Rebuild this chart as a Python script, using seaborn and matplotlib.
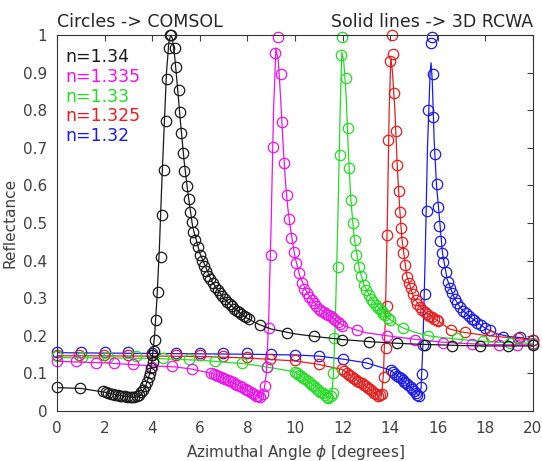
import numpy as np
import matplotlib
matplotlib.use("Agg")
import matplotlib.pyplot as plt
import seaborn as sns

# COMSOL (circles) and 3D RCWA (lines) reflectance vs azimuthal angle

labels = ["n=1.34", "n=1.335", "n=1.33", "n=1.325", "n=1.32"]
colors = ["#1a1a1a", "#ee11ee", "#22dd22", "#e81c1c", "#1c1ce8"]

# n = 1.34
comsol_x_134 = [0, 0.97, 1.95, 2.05, 2.15, 2.25, 2.35, 2.45, 2.55, 2.65, 2.75, 2.85, 2.95,
                3.05, 3.15, 3.25, 3.35, 3.45, 3.55, 3.63, 3.70, 3.77, 3.85, 3.92, 3.97,
                4.0, 4.03, 4.06, 4.10, 4.17, 4.24, 4.37, 4.41, 4.48, 4.58, 4.62, 4.69, 4.76,
                4.80, 4.94, 5.0, 5.11, 5.18, 5.22, 5.29, 5.35, 5.46, 5.53, 5.57, 5.67, 5.71,
                5.81, 5.91, 5.99, 6.08, 6.17, 6.26, 6.35, 6.45, 6.55, 6.65, 6.75, 6.85, 6.95,
                7.05, 7.15, 7.25, 7.35, 7.45, 7.55, 7.65, 7.75, 7.85, 7.95, 8.06, 8.52, 9.66,
                10.82, 11.99, 13.12, 14.3, 15.47, 16.62, 17.78, 18.95, 20.0]
comsol_y_134 = [0.064, 0.062, 0.052, 0.050, 0.048, 0.046, 0.044, 0.043, 0.042, 0.041, 0.040,
                0.039, 0.038, 0.038, 0.037, 0.038, 0.040, 0.043, 0.050, 0.056, 0.066, 0.078,
                0.090, 0.100, 0.115, 0.150, 0.131, 0.160, 0.189, 0.243, 0.317, 0.41, 0.52,
                0.641, 0.772, 0.882, 0.965, 1.0, 1.0, 0.965, 0.914, 0.855, 0.796, 0.738,
                0.685, 0.639, 0.599, 0.563, 0.53, 0.502, 0.477, 0.455, 0.435, 0.415, 0.40,
                0.385, 0.372, 0.36, 0.35, 0.34, 0.33, 0.321, 0.313, 0.305, 0.298, 0.291,
                0.284, 0.278, 0.272, 0.267, 0.262, 0.258, 0.253, 0.249, 0.244, 0.230, 0.208,
                0.200, 0.190, 0.184, 0.180, 0.176, 0.174, 0.173, 0.173, 0.175]
rcwa_x_134 = [0, 1, 2, 2.5, 3, 3.3, 3.5, 3.7, 3.9, 4.0, 4.1, 4.2, 4.3, 4.4, 4.5, 4.6, 4.7,
              4.78, 4.85, 4.95, 5.05, 5.2, 5.35, 5.5, 5.7, 6.0, 6.5, 7.0, 7.5, 8.0, 8.5, 9.0,
              10, 11, 12, 13, 14, 15, 16, 17, 18, 19, 20]
rcwa_y_134 = [0.062, 0.060, 0.050, 0.043, 0.038, 0.036, 0.042, 0.062, 0.10, 0.14, 0.20, 0.30,
              0.43, 0.60, 0.75, 0.90, 0.98, 1.0, 0.99, 0.94, 0.87, 0.76, 0.66, 0.58, 0.49,
              0.42, 0.345, 0.30, 0.27, 0.246, 0.23, 0.218, 0.205, 0.197, 0.19, 0.185, 0.181,
              0.178, 0.176, 0.174, 0.173, 0.173, 0.173]

# n = 1.335
comsol_x_1335 = [0, 0.8, 1.63, 2.41, 3.21, 4.01, 4.83, 5.67, 6.48, 6.58, 6.68, 6.78, 6.88,
                 6.98, 7.08, 7.18, 7.28, 7.38, 7.48, 7.58, 7.68, 7.78, 7.88, 7.98, 8.08, 8.18,
                 8.27, 8.36, 8.45, 8.55, 8.65, 8.76, 8.83, 8.90, 9.0, 9.08, 9.15, 9.27, 9.40,
                 9.47, 9.54, 9.65, 9.77, 9.85, 9.95, 10.05, 10.16, 10.3, 10.4, 10.51, 10.6,
                 10.7, 10.79, 10.9, 11.0, 11.1, 11.2, 11.3, 11.4, 11.5, 11.6, 11.7, 11.8,
                 11.9, 11.96, 12.59, 13.85, 15.05, 16.24, 17.43, 18.56, 19.33, 20.0]
comsol_y_1335 = [0.134, 0.134, 0.128, 0.128, 0.124, 0.118, 0.119, 0.111, 0.100, 0.098, 0.096,
                 0.093, 0.090, 0.088, 0.085, 0.082, 0.079, 0.076, 0.073, 0.070, 0.066, 0.063,
                 0.059, 0.056, 0.052, 0.048, 0.044, 0.041, 0.039, 0.038, 0.045, 0.067, 0.118,
                 0.222, 0.415, 0.703, 0.951, 0.995, 0.896, 0.768, 0.659, 0.574, 0.51, 0.459,
                 0.424, 0.393, 0.366, 0.34, 0.325, 0.313, 0.303, 0.294, 0.286, 0.278, 0.271,
                 0.267, 0.264, 0.259, 0.255, 0.252, 0.248, 0.241, 0.236, 0.231, 0.227, 0.215,
                 0.200, 0.190, 0.182, 0.178, 0.176, 0.176, 0.177]
rcwa_x_1335 = [0, 2, 4, 5, 5.7, 6.5, 7, 7.5, 8, 8.3, 8.5, 8.6, 8.7, 8.8, 8.9, 9.0, 9.1, 9.2,
               9.3, 9.4, 9.5, 9.6, 9.7, 9.8, 10.0, 10.2, 10.5, 11, 11.5, 12, 12.6, 13, 14, 15,
               16, 17, 18, 19, 20]
rcwa_y_1335 = [0.132, 0.128, 0.120, 0.117, 0.111, 0.100, 0.087, 0.072, 0.055, 0.043, 0.037,
               0.040, 0.055, 0.10, 0.25, 0.50, 0.80, 0.965, 0.93, 0.83, 0.71, 0.61, 0.54, 0.49,
               0.41, 0.36, 0.315, 0.273, 0.252, 0.228, 0.215, 0.208, 0.199, 0.191, 0.184,
               0.180, 0.177, 0.176, 0.176]

# n = 1.33
comsol_x_133 = [0, 1.04, 2.16, 3.33, 4.45, 5.53, 6.65, 7.78, 8.83, 9.99, 10.08, 10.17, 10.26,
                10.35, 10.44, 10.53, 10.62, 10.71, 10.8, 10.89, 10.98, 11.07, 11.16, 11.25,
                11.33, 11.4, 11.5, 11.58, 11.61, 11.65, 11.79, 11.88, 11.93, 11.99, 12.13,
                12.21, 12.26, 12.35, 12.43, 12.51, 12.58, 12.69, 12.79, 12.9, 13.0, 13.11,
                13.2, 13.3, 13.39, 13.48, 13.56, 13.64, 13.72, 13.8, 13.9, 13.99, 14.55,
                15.61, 16.8, 17.92, 19.05, 20.0]
comsol_y_133 = [0.145, 0.143, 0.143, 0.145, 0.142, 0.137, 0.134, 0.128, 0.117, 0.105, 0.101,
                0.097, 0.093, 0.089, 0.085, 0.080, 0.075, 0.070, 0.066, 0.061, 0.056, 0.051,
                0.047, 0.042, 0.038, 0.035, 0.040, 0.048, 0.100, 0.193, 0.384, 0.68, 0.947,
                0.995, 0.885, 0.753, 0.645, 0.56, 0.50, 0.455, 0.415, 0.384, 0.359, 0.335,
                0.322, 0.309, 0.299, 0.29, 0.282, 0.275, 0.27, 0.265, 0.259, 0.254, 0.248,
                0.242, 0.220, 0.200, 0.193, 0.185, 0.182, 0.180]
rcwa_x_133 = [0, 2, 4, 6, 8, 9, 10, 10.5, 11, 11.3, 11.45, 11.55, 11.62, 11.7, 11.8, 11.9,
              11.97, 12.05, 12.15, 12.25, 12.35, 12.5, 12.7, 12.9, 13.2, 13.6, 14, 14.5, 15,
              15.6, 16.5, 17.5, 18.5, 19.5, 20]
rcwa_y_133 = [0.142, 0.141, 0.140, 0.135, 0.125, 0.115, 0.104, 0.082, 0.057, 0.039, 0.034,
              0.045, 0.10, 0.25, 0.50, 0.80, 0.955, 0.93, 0.84, 0.68, 0.56, 0.455, 0.38, 0.335,
              0.30, 0.268, 0.243, 0.222, 0.210, 0.200, 0.193, 0.187, 0.183, 0.181, 0.180]

# n = 1.325
comsol_x_1325 = [0, 0.94, 1.98, 3.0, 3.99, 5.01, 6.02, 6.98, 7.99, 8.97, 10.02, 11.0, 11.99,
                 12.08, 12.17, 12.26, 12.35, 12.44, 12.53, 12.62, 12.71, 12.8, 12.89, 12.98,
                 13.07, 13.16, 13.25, 13.34, 13.42, 13.5, 13.58, 13.64, 13.75, 13.82, 13.85,
                 13.88, 13.91, 13.99, 14.09, 14.13, 14.18, 14.23, 14.29, 14.36, 14.41, 14.44,
                 14.51, 14.56, 14.62, 14.72, 14.8, 14.86, 14.95, 15.07, 15.15, 15.25, 15.36,
                 15.45, 15.55, 15.65, 15.75, 15.85, 15.95, 16.03, 16.57, 17.13, 18.23, 19.36,
                 20.0]
comsol_y_1325 = [0.150, 0.150, 0.150, 0.150, 0.150, 0.150, 0.149, 0.146, 0.144, 0.137, 0.136,
                 0.125, 0.112, 0.107, 0.102, 0.097, 0.093, 0.089, 0.085, 0.081, 0.077, 0.074,
                 0.070, 0.066, 0.062, 0.058, 0.054, 0.049, 0.044, 0.041, 0.042, 0.045, 0.091,
                 0.167, 0.279, 0.468, 0.72, 0.932, 1.0, 0.95, 0.847, 0.745, 0.655, 0.585,
                 0.53, 0.486, 0.45, 0.419, 0.388, 0.357, 0.34, 0.326, 0.31, 0.295, 0.285,
                 0.276, 0.269, 0.263, 0.257, 0.253, 0.249, 0.245, 0.242, 0.240, 0.215, 0.209,
                 0.200, 0.193, 0.188]
rcwa_x_1325 = [0, 4, 6, 8, 9, 10, 11, 12, 12.5, 13, 13.3, 13.55, 13.65, 13.72, 13.8, 13.88,
               13.96, 14.03, 14.1, 14.2, 14.3, 14.4, 14.5, 14.7, 15.0, 15.4, 16, 16.5, 17, 18,
               19, 20]
rcwa_y_1325 = [0.147, 0.146, 0.145, 0.141, 0.137, 0.133, 0.124, 0.110, 0.087, 0.065, 0.050,
               0.040, 0.050, 0.10, 0.25, 0.50, 0.80, 0.94, 0.90, 0.80, 0.65, 0.54, 0.455, 0.36,
               0.30, 0.267, 0.240, 0.218, 0.210, 0.201, 0.195, 0.188]

# n = 1.32
comsol_x_132 = [0, 1, 2, 3, 4, 5, 6.02, 6.98, 7.99, 9.0, 10.02, 11.0, 12.03, 13.04, 14.02,
                14.11, 14.2, 14.29, 14.37, 14.44, 14.52, 14.6, 14.68, 14.76, 14.86, 14.94,
                15.02, 15.09, 15.15, 15.21, 15.3, 15.33, 15.37, 15.46, 15.54, 15.58, 15.72,
                15.75, 15.79, 15.82, 15.88, 15.96, 16.03, 16.07, 16.1, 16.17, 16.24, 16.34,
                16.44, 16.53, 16.62, 16.72, 16.83, 16.93, 17.05, 17.18, 17.3, 17.43, 17.53,
                17.65, 17.8, 17.99, 18.2, 18.76, 19.46, 20.0]
comsol_y_132 = [0.158, 0.158, 0.157, 0.156, 0.155, 0.155, 0.154, 0.153, 0.154, 0.151, 0.150,
                0.147, 0.137, 0.128, 0.109, 0.104, 0.099, 0.094, 0.090, 0.087, 0.082, 0.078,
                0.074, 0.070, 0.065, 0.059, 0.053, 0.047, 0.042, 0.039, 0.063, 0.098, 0.176,
                0.312, 0.532, 0.80, 0.978, 0.994, 0.896, 0.783, 0.683, 0.604, 0.543, 0.492,
                0.453, 0.421, 0.397, 0.37, 0.344, 0.328, 0.313, 0.299, 0.286, 0.276, 0.267,
                0.26, 0.253, 0.245, 0.241, 0.235, 0.228, 0.220, 0.215, 0.198, 0.196, 0.190]
rcwa_x_132 = [0, 4, 6, 8, 10, 11, 12, 13, 14, 14.5, 15, 15.2, 15.3, 15.38, 15.47, 15.57,
              15.68, 15.72, 15.77, 15.85, 15.95, 16.05, 16.2, 16.4, 16.7, 17, 17.5, 18, 18.5,
              19, 19.5, 20]
rcwa_y_132 = [0.155, 0.153, 0.152, 0.151, 0.149, 0.146, 0.138, 0.128, 0.109, 0.083, 0.055,
              0.040, 0.060, 0.18, 0.40, 0.70, 0.90, 0.926, 0.88, 0.72, 0.60, 0.53, 0.42, 0.35,
              0.30, 0.27, 0.243, 0.220, 0.205, 0.198, 0.195, 0.190]

comsol_x = [comsol_x_134, comsol_x_1335, comsol_x_133, comsol_x_1325, comsol_x_132]
comsol_y = [comsol_y_134, comsol_y_1335, comsol_y_133, comsol_y_1325, comsol_y_132]
rcwa_x = [rcwa_x_134, rcwa_x_1335, rcwa_x_133, rcwa_x_1325, rcwa_x_132]
rcwa_y = [rcwa_y_134, rcwa_y_1335, rcwa_y_133, rcwa_y_1325, rcwa_y_132]

sns.set_theme(style="white")
plt.rcParams["font.family"] = ["DejaVu Sans"]

fig = plt.figure(figsize=(5.42, 4.61), dpi=100)
ax = fig.add_axes([0.1052, 0.1085, 0.878, 0.8156])

grey = "#404040"

# plot in reverse so that n=1.34 ends up on top
for i in reversed(range(len(labels))):
    sns.lineplot(x=rcwa_x[i], y=rcwa_y[i], color=colors[i], linewidth=0.9,
                 sort=False, estimator=None, ax=ax)
    sns.lineplot(x=comsol_x[i], y=comsol_y[i], color=colors[i], linestyle="none",
                 marker="o", markersize=7.5, markerfacecolor="none",
                 markeredgecolor=colors[i], markeredgewidth=0.9,
                 sort=False, estimator=None, clip_on=False, ax=ax)

ax.set_xlim(0, 20)
ax.set_ylim(0, 1)
ax.set_xticks(np.arange(0, 21, 2))
ax.set_yticks(np.arange(0, 1.01, 0.1))
ax.set_yticklabels(["0", "0.1", "0.2", "0.3", "0.4", "0.5", "0.6", "0.7", "0.8", "0.9", "1"])
ax.tick_params(direction="in", top=True, right=True, length=4, width=0.8,
               colors=grey, labelsize=11, pad=7)
for sp in ax.spines.values():
    sp.set_color("#333333")
    sp.set_linewidth(0.8)

ax.set_xlabel("Azimuthal Angle $\\phi$ [degrees]", fontsize=11, color=grey, labelpad=5)
ax.set_ylabel("Reflectance", fontsize=11, color=grey, labelpad=4)

ax.set_title("Circles -> COMSOL", loc="left", fontsize=12.5, pad=6)
ax.set_title("Solid lines -> 3D RCWA", loc="right", fontsize=12.5, pad=6)

for i, lab in enumerate(labels):
    ax.text(0.017, 0.941 - 0.0525 * i, lab, color=colors[i], fontsize=12.5,
            va="center", ha="left", transform=ax.transAxes)

fig.savefig("out.png", dpi=100)
